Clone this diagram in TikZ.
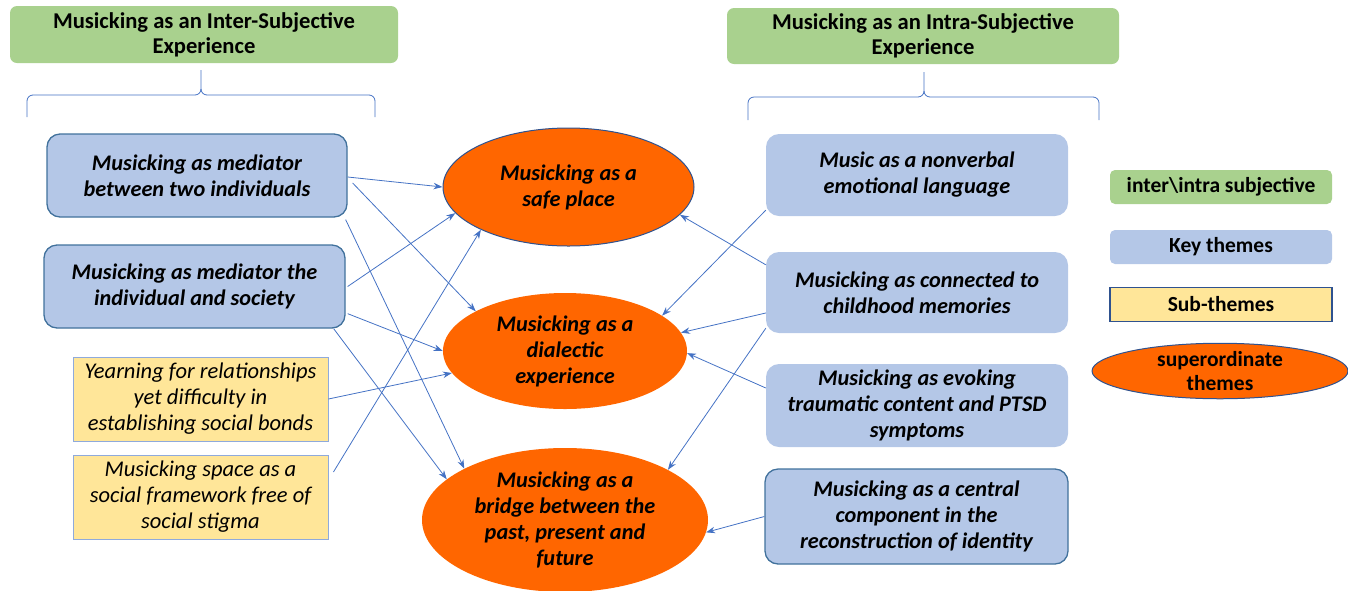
\documentclass[tikz,border=0pt]{standalone}
\usepackage{fontspec}
\setmainfont{Carlito}
\usetikzlibrary{arrows.meta,shapes.geometric}
\definecolor{hdrgreen}{HTML}{A9D18E}
\definecolor{keyblue}{HTML}{B4C7E7}
\definecolor{keyedge}{HTML}{41719C}
\definecolor{subyellow}{HTML}{FFE699}
\definecolor{subedge}{HTML}{8FAADC}
\definecolor{superorange}{HTML}{FF6600}
\definecolor{darkedge}{HTML}{2F528F}
\definecolor{linkblue}{HTML}{4472C4}
\tikzset{
  txt/.style={font=\fontsize{22.3}{26}\selectfont, align=center, text=black},
  header/.style={txt, font=\fontsize{22.6}{25}\selectfont\bfseries, fill=hdrgreen,
    rounded corners=7pt, inner sep=0pt},
  keybox/.style={txt, font=\fontsize{22.3}{26}\selectfont\bfseries\itshape, fill=keyblue,
    rounded corners=13pt, inner sep=0pt},
  keyframed/.style={keybox, draw=keyedge, line width=1.3pt},
  subbox/.style={txt, font=\fontsize{22.5}{26}\selectfont\itshape, fill=subyellow,
    draw=subedge, line width=0.9pt, inner sep=0pt},
  superell/.style={txt, font=\fontsize{22.3}{26}\selectfont\bfseries\itshape, ellipse,
    fill=superorange, inner sep=0pt},
  legendbox/.style={txt, font=\fontsize{21.5}{25}\selectfont\bfseries, inner sep=0pt,
    minimum width=222pt, minimum height=34pt},
  link/.style={draw=linkblue, line width=0.8pt, -{Stealth[length=9pt,width=6.5pt]}},
  bracket/.style={draw=linkblue, line width=0.8pt},
}
\begin{document}
\begin{tikzpicture}[x=1pt,y=-1pt]
\useasboundingbox (0,0) rectangle (1348,590);

% group headers
\node[header, minimum width=388pt, minimum height=57pt] (H1) at (204,34.5)
  {Musicking as an Inter-Subjective\\Experience};
\node[header, minimum width=392pt, minimum height=56pt] (H2) at (923,36)
  {Musicking as an Intra-Subjective\\Experience};

% curly brackets under the headers
\draw[bracket] (27,117) -- (27,101) to[out=90,in=180] (33,95) -- (195,95)
  to[out=0,in=-90] (201,89) -- (201,70);
\draw[bracket] (375,117) -- (375,101) to[out=90,in=0] (369,95) -- (207,95)
  to[out=180,in=-90] (201,89);
\draw[bracket] (748,120) -- (748,103) to[out=90,in=180] (754,97) -- (918,97)
  to[out=0,in=-90] (924,91) -- (924,72);
\draw[bracket] (1099,120) -- (1099,103) to[out=90,in=0] (1093,97) -- (930,97)
  to[out=180,in=-90] (924,91);

% inter-subjective key themes and sub-themes
\node[keyframed, minimum width=300pt, minimum height=83pt] (L1) at (197,175.5)
  {Musicking as mediator\\between two individuals};
\node[keyframed, minimum width=301pt, minimum height=83pt] (L2) at (194.5,286.5)
  {Musicking as mediator the\\individual and society};
\node[subbox, minimum width=255pt, minimum height=84pt] (Y1) at (200.5,399)
  {Yearning for relationships\\yet difficulty in\\establishing social bonds};
\node[subbox, minimum width=255pt, minimum height=84pt] (Y2) at (200.5,497)
  {Musicking space as a\\social framework free of\\social stigma};

% superordinate themes
\node[superell, draw=darkedge, line width=1pt, minimum width=251pt, minimum height=118pt]
  (E1) at (568.5,187) {Musicking as a\\safe place};
\node[superell, minimum width=244pt, minimum height=116pt] (E2) at (565,351)
  {Musicking as a\\dialectic\\experience};
\node[superell, minimum width=286pt, minimum height=144pt] (E3) at (565,520)
  {Musicking as a\\bridge between the\\past, present and\\future};

% intra-subjective key themes
\node[keybox, minimum width=302pt, minimum height=82pt] (R1) at (917,175)
  {Music as a nonverbal\\emotional language};
\node[keybox, minimum width=302pt, minimum height=81pt] (R2) at (917,292.5)
  {Musicking as connected to\\childhood memories};
\node[keybox, minimum width=302pt, minimum height=83pt] (R3) at (917,405.5)
  {Musicking as evoking\\traumatic content and PTSD\\symptoms};
\node[keyframed, minimum width=303pt, minimum height=95pt] (R4) at (916.5,516.5)
  {Musicking as a central\\component in the\\reconstruction of identity};

% legend
\node[legendbox, fill=hdrgreen, rounded corners=5pt] (G1) at (1221,187)
  {inter\textbackslash intra subjective};
\node[legendbox, fill=keyblue, rounded corners=5pt] (G2) at (1221,247) {Key themes};
\node[legendbox, fill=subyellow, draw=darkedge, line width=1.8pt,
  minimum width=222pt, minimum height=34pt] (G3) at (1221,304.5) {Sub-themes};
\node[txt, font=\fontsize{21.5}{25}\selectfont\bfseries, ellipse, fill=superorange,
  draw=darkedge, line width=1pt, inner sep=0pt, minimum width=256pt, minimum height=54pt]
  (G4) at (1220,371) {superordinate\\[-1pt]themes};

% links from inter-subjective themes
\draw[link] ([yshift=-1.5pt]L1.east) -- (E1.180);
\draw[link] ([shift={(5pt,-7.5pt)}]L1.east) -- (E2.156);
\draw[link] ([shift={(-2pt,-2pt)}]L1.south east) -- (E3.153);
\draw[link] ([xshift=2pt]L2.east) -- (E1.193);
\draw[link] ([shift={(2pt,15pt)}]L2.south east) -- (E2.180);
\draw[link] ([xshift=-12pt]L2.south east) -- (E3.161);
\draw[link] (Y1.east) -- (E2.191.5);
\draw[link] ([shift={(5pt,25pt)}]Y2.east) -- (E1.206.7);

% links from intra-subjective themes
\draw[link] ([yshift=6pt]R1.south west) -- (E2.20.4);
\draw[link] ([yshift=-13pt]R2.north west) -- (E1.346.7);
\draw[link] ([yshift=-20.5pt]R2.west) -- (E2.9);
\draw[link] ([yshift=5pt]R2.south west) -- (E3.26.1);
\draw[link] ([yshift=17.5pt]R3.west) -- (E2.359.5);
\draw[link] (R4.west) -- (E3.355);
\end{tikzpicture}
\end{document}
